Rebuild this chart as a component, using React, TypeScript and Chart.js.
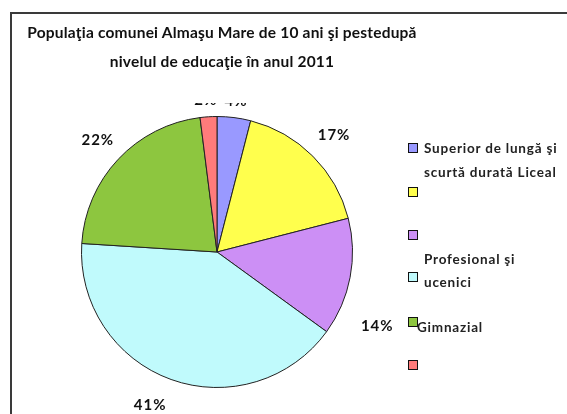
import React, { useEffect, useRef } from "react";
import { Chart, registerables } from "chart.js";

Chart.register(...registerables);

// ---- data ----
const TITLE_LINES = [
  "Populaţia comunei Almaşu Mare de 10 ani şi pestedupă",
  "nivelul de educaţie în anul 2011",
];
const categories = [
  "Superior de lungă şi scurtă durată",
  "Liceal",
  "Profesional şi ucenici",
  "Gimnazial",
  "",
  "",
];
const values = [4, 17, 14, 41, 22, 2];
const colors = ["#9999ff", "#ffff4d", "#cc8ff5", "#c0fafc", "#8dc63f", "#ff7b7b"];
// legend text as it appears (overflowing Excel legend)
const legendTextBlocks = [
  ["Superior de lungă şi", "scurtă durată Liceal"],
  ["Profesional şi", "ucenici"],
  ["Gimnazial"],
];

const FONT = "Lato, 'Open Sans', sans-serif";

const pctLabels = {
  id: "pctLabels",
  afterDatasetsDraw(chart: any, _args: any, opts: any) {
    const { ctx, chartArea } = chart;
    const meta = chart.getDatasetMeta(0);
    const data = chart.data.datasets[0].data as number[];
    ctx.save();
    ctx.beginPath();
    ctx.rect(0, chartArea.top - opts.clipAbove, chart.width, chart.height);
    ctx.clip();
    ctx.font = opts.font;
    (ctx as any).letterSpacing = opts.letterSpacing;
    ctx.fillStyle = opts.color;
    ctx.textAlign = "center";
    ctx.textBaseline = "middle";
    meta.data.forEach((arc: any, i: number) => {
      const p = arc.getProps(["x", "y", "startAngle", "endAngle", "outerRadius"], true);
      const n = opts.nudges[i] || [0, 0];
      const a = (p.startAngle + p.endAngle) / 2 + (n[0] * Math.PI) / 180;
      const rr = p.outerRadius + opts.offset + n[1];
      ctx.fillText(data[i] + "%", p.x + Math.cos(a) * rr, p.y + Math.sin(a) * rr);
    });
    ctx.restore();
  },
};

export default function App() {
  const ref = useRef<HTMLCanvasElement>(null);
  useEffect(() => {
    if (!ref.current) return;
    const chart = new Chart(ref.current, {
      type: "pie",
      data: {
        labels: categories,
        datasets: [
          {
            data: values,
            backgroundColor: colors,
            borderColor: "#222",
            borderWidth: 1,
          },
        ],
      },
      options: {
        responsive: false,
        animation: false,
        layout: { padding: { left: 81, right: 214, top: 116, bottom: 26 } },
        plugins: {
          legend: { display: false },
          title: { display: false },
          tooltip: { enabled: false },
          pctLabels: {
            font: `bold 15px ${FONT}`,
            letterSpacing: "1px",
            color: "#111",
            offset: 26,
            clipAbove: 13,
            nudges: [
              [0, -9],
              [0, 4],
              [14, 15],
              [3.7, 6],
              [0, 2],
              [-0.6, -9],
            ],
          },
        } as any,
      },
      plugins: [pctLabels],
    });
    return () => chart.destroy();
  }, []);

  const legendTops = [148, 192, 235, 277, 322, 365];
  const textLayout = [
    { left: 424, top: 136, lh: 24 },
    { left: 424, top: 248, lh: 23 },
    { left: 417, top: 316, lh: 23 },
  ];

  return (
    <div
      style={{
        position: "fixed",
        left: 0,
        top: 0,
        width: 567,
        height: 414,
        overflow: "hidden",
        background: "#fff",
        fontFamily: FONT,
      }}
    >
      <div
        style={{
          position: "absolute",
          left: 10,
          top: 12,
          width: 700,
          height: 600,
          border: "2px solid #3a3a3a",
        }}
      />
      <canvas ref={ref} width={567} height={414} style={{ position: "absolute", left: 0, top: 0 }} />
      <div
        style={{
          position: "absolute",
          left: 0,
          top: 18,
          width: 444,
          textAlign: "center",
          fontWeight: 700,
          fontSize: 15.5,
          letterSpacing: "0.2px",
          lineHeight: "29px",
          color: "#111",
          whiteSpace: "nowrap",
        }}
      >
        {TITLE_LINES.map((t, i) => (
          <div key={i}>{t}</div>
        ))}
      </div>
      {colors.map((c, i) => (
        <div
          key={i}
          style={{
            position: "absolute",
            left: 408,
            top: legendTops[i] - 5,
            width: 8,
            height: 8,
            background: c,
            border: "1px solid #111",
          }}
        />
      ))}
      {legendTextBlocks.map((lines, i) => (
        <div
          key={i}
          style={{
            position: "absolute",
            left: textLayout[i].left,
            top: textLayout[i].top,
            fontWeight: 700,
            fontSize: 13.5,
            letterSpacing: "0.8px",
            lineHeight: textLayout[i].lh + "px",
            color: "#222",
            whiteSpace: "nowrap",
          }}
        >
          {lines.map((l, j) => (
            <div key={j}>{l}</div>
          ))}
        </div>
      ))}
    </div>
  );
}
